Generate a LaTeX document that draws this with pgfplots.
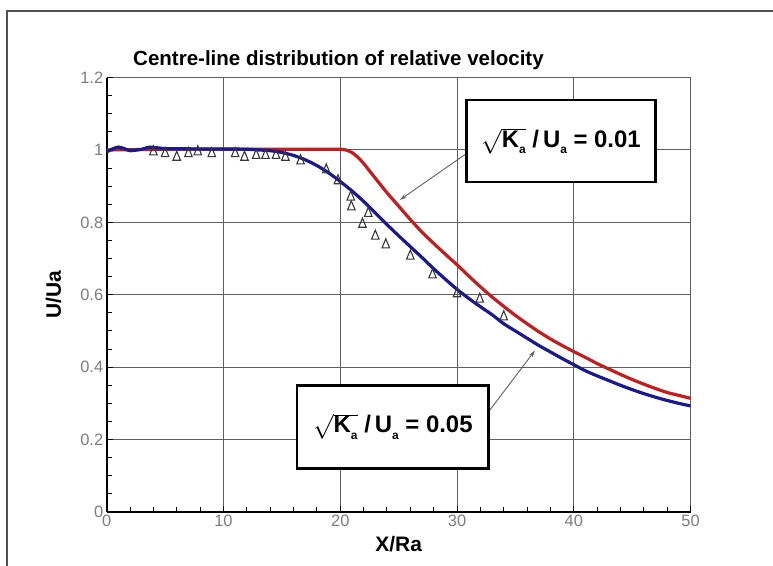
\documentclass[border=0pt]{standalone}
\usepackage{fontspec}
\setmainfont{Liberation Sans}
\usepackage{pgfplots}
\pgfplotsset{compat=1.18}
\usetikzlibrary{arrows.meta}
\definecolor{redline}{RGB}{195,30,30}
\definecolor{blueline}{RGB}{25,25,145}
\definecolor{gridgray}{RGB}{95,95,95}
\definecolor{ticklab}{RGB}{125,125,125}
\definecolor{framegray}{RGB}{80,80,80}
\definecolor{markgray}{RGB}{55,55,55}
\newcommand\sub[1]{\raisebox{-0.5ex}{\fontsize{12}{13}\selectfont #1}}

\begin{document}
\begin{tikzpicture}
\useasboundingbox (0bp,0bp) rectangle (773bp,566bp);
% outer frame (only partly inside the picture)
\draw[line width=1.2bp, framegray] (7bp,0bp) -- (7bp,555bp) -- (773bp,555bp);
\node[anchor=base west, inner sep=0pt, font=\bfseries\fontsize{20.6}{24}\selectfont] at (133bp,500bp)
  {Centre-line distribution of relative velocity};

\begin{axis}[
    at={(106.7bp,54bp)}, anchor=south west,
    scale only axis, width=583.9bp, height=434.4bp,
    xmin=0, xmax=50, ymin=0, ymax=1.2,
    xtick={0,10,20,30,40,50},
    ytick={0,0.2,0.4,0.6,0.8,1,1.2},
    minor x tick num=4, minor y tick num=3,
    axis lines=left,
    axis line style={-, line width=1.6bp, black},
    tick align=inside,
    major tick length=6bp, minor tick length=5bp,
    every tick/.style={black, line width=1bp},
    grid=major,
    major grid style={gridgray, line width=1bp},
    tick label style={font=\fontsize{16.5}{19}\selectfont, text=ticklab},
    /pgf/number format/assume math mode=true,
    xlabel={X/Ra}, ylabel={U/Ua},
    label style={font=\bfseries\fontsize{21}{25}\selectfont},
    xlabel style={at={(axis description cs:0.5,-0.0898)}, anchor=base},
    ylabel style={at={(axis description cs:-0.0783,0.5)}, anchor=base},
]
% sqrt(K)/U = 0.01
\addplot[redline, line width=3.2bp, smooth, tension=0.4] coordinates {
(0,1.0)(5,1.002)(10,1.002)(15,1.002)(19,1.002)(20,1.002)(20.5,1.0)(21,0.993)
(21.5,0.98)(22,0.963)(23,0.922)(24,0.882)(25,0.845)(26,0.808)(27,0.773)
(28,0.742)(29,0.712)(30,0.683)(31,0.652)(32,0.622)(33,0.594)(34,0.568)
(35,0.543)(36,0.52)(37,0.498)(38,0.478)(39,0.46)(40,0.443)(41,0.427)
(42,0.41)(43,0.395)(44,0.38)(45,0.366)(46,0.353)(47,0.341)(48,0.33)
(49,0.322)(50,0.314)};
% sqrt(K)/U = 0.05
\addplot[blueline, line width=3.2bp, smooth, tension=0.4] coordinates {
(0,0.995)(0.5,1.003)(1,1.008)(1.5,1.004)(2,0.998)(3,1.002)(3.7,1.008)
(5,1.004)(8,1.003)(10,1.003)(12,1.002)(14,0.998)(15,0.993)(16,0.985)
(17,0.973)(18,0.957)(19,0.937)(20,0.913)(21,0.887)(22,0.858)(23,0.826)
(24,0.794)(25,0.763)(26,0.733)(27,0.703)(28,0.672)(29,0.643)(30,0.615)
(31,0.59)(32,0.567)(33,0.545)(34,0.52)(35,0.5)(36,0.48)(37,0.46)
(38,0.442)(39,0.424)(40,0.407)(41,0.39)(42,0.376)(43,0.363)(44,0.35)
(45,0.338)(46,0.327)(47,0.317)(48,0.308)(49,0.3)(50,0.293)};
% experiment
\addplot[only marks, mark=triangle, mark size=6bp,
  mark options={markgray, line width=1.1bp, xscale=0.72}] coordinates {
(4,0.995)(5,0.99)(6,0.98)(7,0.99)(7.8,0.995)(9,0.99)(11,0.99)(11.8,0.98)
(12.8,0.985)(13.6,0.985)(14.5,0.985)(15.3,0.98)(16.6,0.97)(18.8,0.945)
(19.8,0.915)(20.9,0.87)(20.95,0.843)(21.9,0.795)(22.4,0.825)(23,0.762)
(23.9,0.738)(26,0.707)(27.9,0.655)(30,0.603)(31.95,0.588)(34,0.539)};

\draw[-{Stealth[length=7bp,width=4bp]}, line width=0.9bp, gridgray]
  (axis cs:30.8,0.99) -- (axis cs:25.1,0.862);
\draw[-{Stealth[length=7bp,width=4bp]}, line width=0.9bp, gridgray]
  (axis cs:32.7,0.277) -- (axis cs:36.67,0.446);

\draw[line width=2.7bp, fill=white] (axis cs:30.8,0.912) rectangle (axis cs:47.0,1.138);
\node[font=\bfseries\fontsize{24}{28}\selectfont] at (axis cs:38.9,1.025)
  {$\sqrt{\mbox{K\sub{a}}}$ /\,U\sub{a} = 0.01};
\draw[line width=2.7bp, fill=white] (axis cs:16.3,0.121) rectangle (axis cs:32.7,0.35);
\node[font=\bfseries\fontsize{24}{28}\selectfont] at (axis cs:24.5,0.2355)
  {$\sqrt{\mbox{K\sub{a}}}$ /\,U\sub{a} = 0.05};
\end{axis}
\end{tikzpicture}
\end{document}
